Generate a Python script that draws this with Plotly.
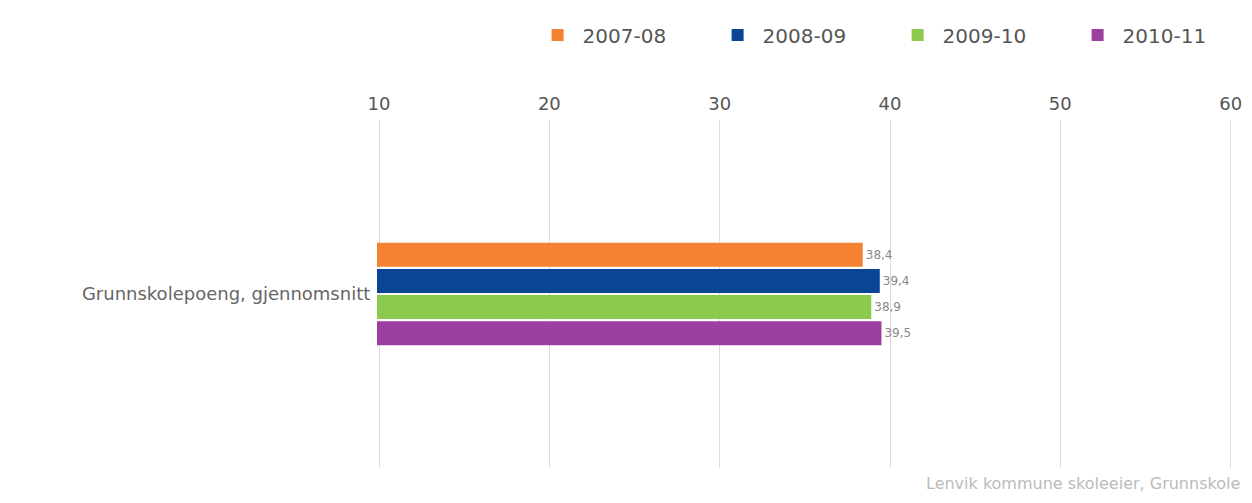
import plotly.graph_objects as go

categories = ["Grunnskolepoeng, gjennomsnitt"]
series_names = ["2007-08", "2008-09", "2009-10", "2010-11"]
series_values = [[38.4], [39.4], [38.9], [39.5]]
colors = ["#f58232", "#0a4595", "#8cc94f", "#9b3fa0"]
x_ticks = [10, 20, 30, 40, 50, 60]
source_text = "Lenvik kommune skoleeier, Grunnskole"

fig = go.Figure()
for name, vals, col in zip(series_names, series_values, colors):
    fig.add_trace(go.Bar(
        y=categories, x=vals, name=name, orientation="h",
        marker=dict(color=col, line=dict(width=0)),
        text=[f"{v:.1f}".replace(".", ",") for v in vals],
        textposition="outside", cliponaxis=False,
        textfont=dict(size=12, color="#888888", family="DejaVu Sans"),
    ))

fig.update_layout(
    width=1244, height=487,
    margin=dict(l=369, r=20, t=112, b=27, autoexpand=False),
    paper_bgcolor="white", plot_bgcolor="white",
    barmode="group", bargap=0.70, bargroupgap=0.08,
    font=dict(family="DejaVu Sans", color="#555555"),
    showlegend=True,
    legend=dict(orientation="h", x=0.182, xanchor="left", y=1.244, yanchor="middle",
                font=dict(size=20, color="#555555"), itemwidth=40,
                entrywidth=125, traceorder="normal"),
    xaxis=dict(side="top", range=[9.88, 60.08], tickvals=x_ticks, showgrid=True,
               gridcolor="#dcdcdc", gridwidth=1, zeroline=False, showline=False,
               ticks="", ticklabelstandoff=5,
               tickfont=dict(size=18, color="#555555"), automargin=False),
    yaxis=dict(autorange="reversed", showgrid=False, zeroline=False, showline=False,
               ticks="", ticksuffix=" ", tickfont=dict(size=18, color="#666666"),
               automargin=False),
    annotations=[dict(text=source_text, xref="paper", yref="paper", x=1.0117, y=-27 / 348,
                      xanchor="right", yanchor="bottom", showarrow=False,
                      font=dict(size=16, color="#bbbbbb"))],
)

fig.write_html("out.html")
